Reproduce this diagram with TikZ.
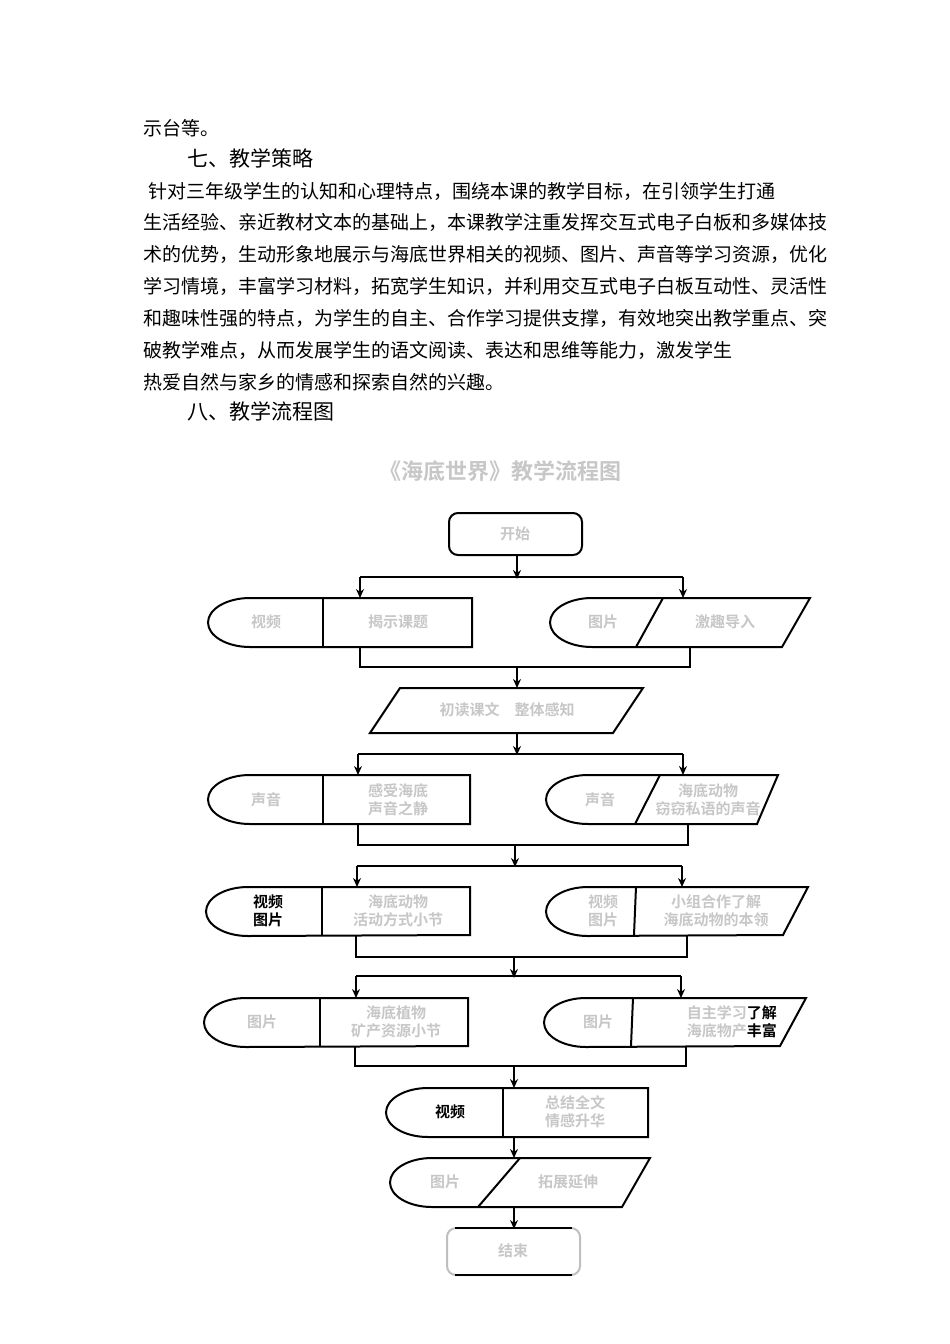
\documentclass[tikz,border=0pt]{standalone}
\usepackage{fontspec}
\usetikzlibrary{arrows.meta}
\newfontfamily\cjk{Noto Sans CJK SC}
\newfontfamily\cjkb{Noto Sans CJK SC Bold}
\begin{document}
\begin{tikzpicture}[x=1pt,y=1pt,
  body/.style={anchor=west,inner sep=0pt,font=\cjk\fontsize{19}{19}\selectfont},
  head/.style={anchor=west,inner sep=0pt,font=\cjk\fontsize{21}{21}\selectfont},
  shp/.style={draw,line width=2pt},
  conn/.style={line width=2pt},
  arr/.style={line width=2pt,-{Stealth[length=9pt,width=8pt]}},
  faint/.style={inner sep=0pt,align=center,text=black!22,font=\cjkb\fontsize{15}{18}\selectfont},
  bold/.style={inner sep=0pt,align=center,font=\cjkb\fontsize{15}{18}\selectfont}]
\useasboundingbox (0,0) rectangle (950,-1344);
\fill[white] (0,0) rectangle (950,-1344);
% text
\node[body] (t0) at (143,-128) {示台等。};
\node[head] (h7) at (187,-158) {七、教学策略};
\node[body] (p1) at (148,-191) {针对三年级学生的认知和心理特点，围绕本课的教学目标，在引领学生打通};
\node[body] (p2) at (143,-222) {生活经验、亲近教材文本的基础上，本课教学注重发挥交互式电子白板和多媒体技};
\node[body] (p3) at (143,-254) {术的优势，生动形象地展示与海底世界相关的视频、图片、声音等学习资源，优化};
\node[body] (p4) at (143,-286) {学习情境，丰富学习材料，拓宽学生知识，并利用交互式电子白板互动性、灵活性};
\node[body] (p5) at (143,-318) {和趣味性强的特点，为学生的自主、合作学习提供支撑，有效地突出教学重点、突};
\node[body] (p6) at (143,-350) {破教学难点，从而发展学生的语文阅读、表达和思维等能力，激发学生};
\node[body] (p7) at (143,-382) {热爱自然与家乡的情感和探索自然的兴趣。};
\node[head] (h8) at (187,-411) {八、教学流程图};
% title
\node[faint,font=\cjkb\fontsize{22}{22}\selectfont] (title) at (500,-471) {《海底世界》教学流程图};
% start
\draw[shp,rounded corners=9pt] (449,-513) rectangle (582,-555);
\node[faint] (start) at (515,-534) {开始};
\draw[arr] (517,-555) -- (517,-579);
\draw[conn] (360,-577) -- (683,-577);
\draw[arr] (360,-577) -- (360,-598);
\draw[arr] (683,-577) -- (683,-598);
% row1
\draw[shp] (472,-598) -- (250,-598) arc[start angle=90,end angle=270,x radius=42,y radius=24.5] -- (472,-647) -- cycle;
\draw[shp] (323,-598) -- (323,-647);
\node[faint] at (266,-622) {视频};
\node[faint] at (398,-622) {揭示课题};
\draw[shp] (810,-598) -- (592,-598) arc[start angle=90,end angle=270,x radius=42,y radius=24.5] -- (782,-647) -- cycle;
\draw[shp] (663,-598) -- (636,-647);
\node[faint] at (603,-622) {图片};
\node[faint] at (725,-622) {激趣导入};
\draw[conn] (360,-647) -- (360,-667) -- (690,-667) -- (690,-647);
\draw[arr] (517,-667) -- (517,-688);
% para
\draw[shp] (400,-688) -- (643,-688) -- (613,-733) -- (370,-733) -- cycle;
\node[faint] at (507,-710) {初读课文\quad 整体感知};
\draw[arr] (517,-733) -- (517,-755);
\draw[conn] (358,-754) -- (683,-754);
\draw[arr] (358,-754) -- (358,-775);
\draw[arr] (683,-754) -- (683,-775);
% row3
\draw[shp] (470,-775) -- (250,-775) arc[start angle=90,end angle=270,x radius=42,y radius=24.5] -- (470,-824) -- cycle;
\draw[shp] (323,-775) -- (323,-824);
\node[faint] at (266,-800) {声音};
\node[faint] at (398,-800) {感受海底\\声音之静};
\draw[shp] (778,-775) -- (588,-775) arc[start angle=90,end angle=270,x radius=42,y radius=24.5] -- (757,-824) -- cycle;
\draw[shp] (660,-775) -- (635,-824);
\node[faint] at (600,-800) {声音};
\node[faint] at (708,-800) {海底动物\\窃窃私语的声音};
\draw[conn] (358,-824) -- (358,-845) -- (688,-845) -- (688,-824);
\draw[arr] (515,-845) -- (515,-867);
\draw[conn] (357,-866) -- (682,-866);
\draw[arr] (357,-866) -- (357,-887);
\draw[arr] (682,-866) -- (682,-887);
% row4
\draw[shp] (470,-887) -- (248,-887) arc[start angle=90,end angle=270,x radius=42,y radius=24.5] -- (470,-935) -- cycle;
\draw[shp] (322,-887) -- (322,-935);
\node[bold] at (268,-911) {视频\\图片};
\node[faint] at (398,-911) {海底动物\\活动方式小节};
\draw[shp] (808,-887) -- (588,-887) arc[start angle=90,end angle=270,x radius=42,y radius=24.5] -- (783,-935) -- cycle;
\draw[shp] (636,-887) -- (634,-935);
\node[faint] at (603,-911) {视频\\图片};
\node[faint] at (716,-911) {小组合作了解\\海底动物的本领};
\draw[conn] (356,-935) -- (356,-957) -- (687,-957) -- (687,-935);
\draw[arr] (514,-957) -- (514,-978);
\draw[conn] (356,-976) -- (681,-976);
\draw[arr] (356,-976) -- (356,-998);
\draw[arr] (681,-976) -- (681,-998);
% row5
\draw[shp] (468,-998) -- (246,-998) arc[start angle=90,end angle=270,x radius=42,y radius=24.5] -- (468,-1046) -- cycle;
\draw[shp] (320,-998) -- (320,-1046);
\node[faint] at (262,-1022) {图片};
\node[faint] at (396,-1022) {海底植物\\矿产资源小节};
\draw[shp] (806,-998) -- (586,-998) arc[start angle=90,end angle=270,x radius=42,y radius=24.5] -- (780,-1046) -- cycle;
\draw[shp] (633,-998) -- (631,-1046);
\node[faint] at (598,-1022) {图片};
\node[inner sep=0pt,align=right,font=\cjkb\fontsize{15}{18}\selectfont,anchor=east] at (777,-1022) {\textcolor{black!22}{自主学习}了解\\\textcolor{black!22}{海底物产}丰富};
\draw[conn] (355,-1046) -- (355,-1066) -- (686,-1066) -- (686,-1046);
\draw[arr] (514,-1066) -- (514,-1088);
% row6
\draw[shp] (648,-1088) -- (428,-1088) arc[start angle=90,end angle=270,x radius=42,y radius=24.5] -- (648,-1137) -- cycle;
\draw[shp] (503,-1088) -- (503,-1137);
\node[bold] at (450,-1112) {视频};
\node[faint] at (575,-1112) {总结全文\\情感升华};
\draw[arr] (514,-1137) -- (514,-1158);
% row7
\draw[shp] (650,-1158) -- (432,-1158) arc[start angle=90,end angle=270,x radius=42,y radius=24.5] -- (622,-1207) -- cycle;
\draw[shp] (520,-1158) -- (478,-1207);
\node[faint] at (445,-1182) {图片};
\node[faint] at (568,-1182) {拓展延伸};
\draw[arr] (514,-1207) -- (514,-1229);
% end
\draw[shp,black!25,rounded corners=9pt] (447,-1228) rectangle (580,-1275);
\draw[shp] (455,-1228) -- (572,-1228);
\draw[shp] (455,-1275) -- (572,-1275);
\node[faint] (end) at (513,-1251) {结束};
\end{tikzpicture}
\end{document}
